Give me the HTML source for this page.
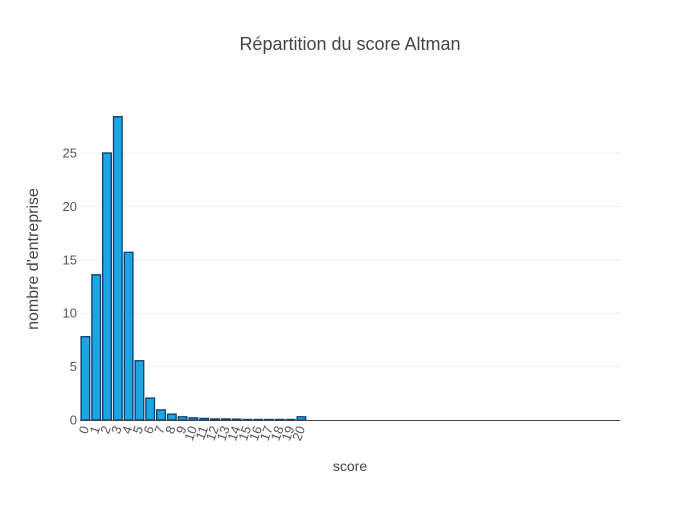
<!DOCTYPE html>
<html><head><meta charset="utf-8"><style>
body{margin:0;background:#fff}
svg{font-family:"Liberation Sans",sans-serif}
</style></head><body>
<svg id="chart" width="700" height="500" xmlns="http://www.w3.org/2000/svg">
<text x="350" y="50" text-anchor="middle" font-size="18" fill="#444">Répartition du score Altman</text>
<g id="grid"></g><g id="bars"></g><g id="xt"></g><g id="yt"></g>
<line x1="80" x2="620" y1="420.5" y2="420.5" stroke="#444" stroke-width="1"/>
<text x="350" y="471" text-anchor="middle" font-size="14" fill="#444">score</text>
<text transform="translate(38,259) rotate(-90)" text-anchor="middle" font-size="16" fill="#444">nombre d'entreprise</text>
</svg>
<script>
const categories=[0,1,2,3,4,5,6,7,8,9,10,11,12,13,14,15,16,17,18,19,20];
const values=[7.8,13.6,25.0,28.4,15.7,5.55,2.05,0.95,0.55,0.3,0.2,0.15,0.1,0.1,0.08,0.05,0.05,0.05,0.05,0.05,0.3];
const yTicks=[0,5,10,15,20,25];
const NS="http://www.w3.org/2000/svg";
const x0=80,x1=620,nSlots=50,y0=420,pxPerUnit=10.68;
const slot=(x1-x0)/nSlots;
const xs=i=>x0+slot*(i+0.5);
const ys=v=>y0-v*pxPerUnit;
function mk(t,a,p){const e=document.createElementNS(NS,t);for(const k in a)e.setAttribute(k,a[k]);p.appendChild(e);return e;}
const grid=document.getElementById('grid'),yt=document.getElementById('yt'),xt=document.getElementById('xt'),bars=document.getElementById('bars');
yTicks.forEach(v=>{
  if(v>0){const l=mk('line',{x1:x0,x2:x1,y1:ys(v),y2:ys(v),stroke:'#eee'},grid);
  
  }
  const t=mk('text',{x:x0-3,y:ys(v)+4.5,'text-anchor':'end','font-size':13,fill:'#555'},yt);t.textContent=v;
  
  
});
categories.forEach((c,i)=>{
  const w=slot*0.8,h=values[i]*pxPerUnit;
  const r=mk('rect',{x:xs(i)-w/2,y:y0-h,width:w,height:h,fill:'#1ba5e3',stroke:'#0d3c6e','stroke-width':1.3},bars);
  
  
  const t=mk('text',{transform:`translate(${xs(i)+4},${y0+8}) rotate(-70)`,'text-anchor':'end','font-size':13,fill:'#555'},xt);t.textContent=c;
  
  
});
</script>
</body></html>
